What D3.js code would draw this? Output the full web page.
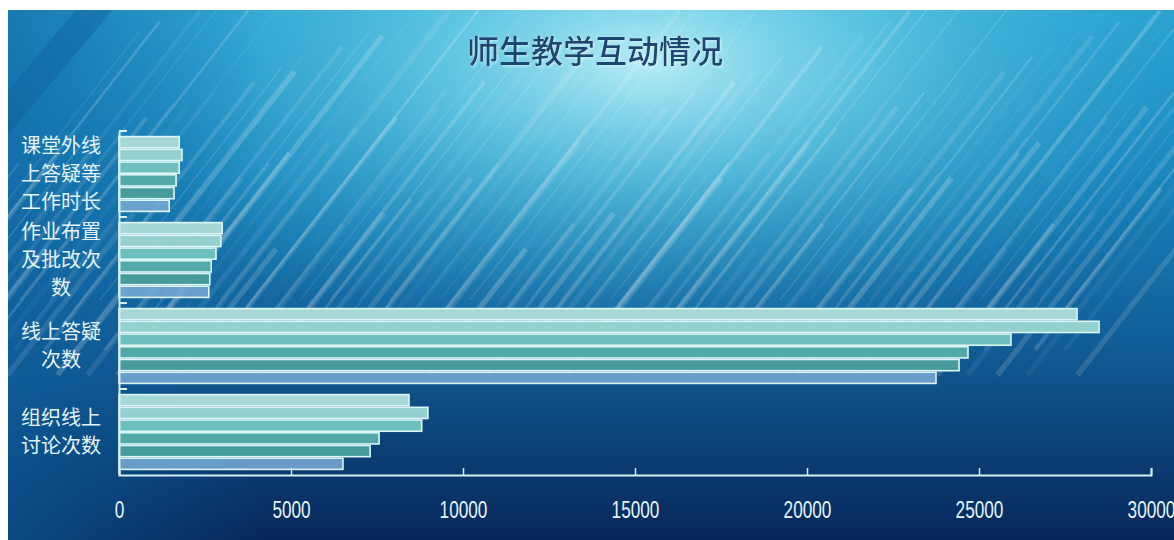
<!DOCTYPE html>
<html>
<head>
<meta charset="utf-8">
<script src="https://cdn.jsdelivr.net/npm/d3@7/dist/d3.min.js"></script>
<style>
  html, body { margin: 0; padding: 0; background: #ffffff; }
  svg { display: block; }
</style>
</head>
<body>
<script>
//chart data
var categories = ["课堂外线上答疑等工作时长", "作业布置及批改次数", "线上答疑次数", "组织线上讨论次数"];
var seriesNames = ["s1", "s2", "s3", "s4", "s5", "s6"];
//one array per series, values in category order
var s1 = [1750, 3000, 27850, 8430];
var s2 = [1830, 2960, 28490, 8980];
var s3 = [1750, 2820, 25930, 8800];
var s4 = [1660, 2680, 24680, 7560];
var s5 = [1600, 2640, 24420, 7300];
var s6 = [1460, 2610, 23750, 6510];
var seriesValues = [s1, s2, s3, s4, s5, s6];
var seriesColors = ["#a6d9d6", "#93d0ce", "#6ec0bf", "#53a9a7", "#479b9b", "rgba(118,168,212,0.88)"];
var xTicks = [0, 5000, 10000, 15000, 20000, 25000, 30000];
var title = "师生教学互动情况";

window.onload = drawChart();

function drawChart() {
    var width = 1174,
        height = 540;

    var svg = d3.select("body")
        .append("svg")
        .attr("width", width)
        .attr("height", height);

    var defs = svg.append("defs");

    //background gradients
    var base = defs.append("linearGradient")
        .attr("id", "bgBase")
        .attr("x1", 0).attr("y1", 0).attr("x2", 0).attr("y2", 1);
    base.append("stop").attr("offset", "0%").attr("stop-color", "#2aa3d2");
    base.append("stop").attr("offset", "30%").attr("stop-color", "#1a86bd");
    base.append("stop").attr("offset", "62%").attr("stop-color", "#115e98");
    base.append("stop").attr("offset", "100%").attr("stop-color", "#07275a");

    var glow = defs.append("radialGradient")
        .attr("id", "bgGlow")
        .attr("cx", 0.55).attr("cy", 0.1).attr("r", 0.5)
        .attr("gradientTransform", "translate(0.55 0.1) scale(1 1.1) translate(-0.55 -0.1)");
    glow.append("stop").attr("offset", "0%").attr("stop-color", "#c8f6fa").attr("stop-opacity", 0.9);
    glow.append("stop").attr("offset", "35%").attr("stop-color", "#7fdcec").attr("stop-opacity", 0.65);
    glow.append("stop").attr("offset", "100%").attr("stop-color", "#2aa6d4").attr("stop-opacity", 0);

    var leftShade = defs.append("linearGradient")
        .attr("id", "bgLeft")
        .attr("x1", 0).attr("y1", 0).attr("x2", 1).attr("y2", 0);
    leftShade.append("stop").attr("offset", "0%").attr("stop-color", "#0d5f9c").attr("stop-opacity", 0.6);
    leftShade.append("stop").attr("offset", "22%").attr("stop-color", "#0d5f9c").attr("stop-opacity", 0);

    var streakFade = defs.append("linearGradient")
        .attr("id", "streakFade")
        .attr("x1", 0).attr("y1", 0).attr("x2", 0).attr("y2", 1);
    streakFade.append("stop").attr("offset", "0%").attr("stop-color", "#ffffff").attr("stop-opacity", 1);
    streakFade.append("stop").attr("offset", "100%").attr("stop-color", "#ffffff").attr("stop-opacity", 0);

    var clip = defs.append("clipPath").attr("id", "bgClip");
    clip.append("rect").attr("x", 8).attr("y", 10).attr("width", width - 8).attr("height", height - 10);

    var titleShadow = defs.append("filter").attr("id", "titleGlow")
        .attr("x", "-10%").attr("y", "-30%").attr("width", "120%").attr("height", "160%");
    titleShadow.append("feDropShadow")
        .attr("dx", 1).attr("dy", 1).attr("stdDeviation", 1.5)
        .attr("flood-color", "#dff8ff").attr("flood-opacity", 0.8);

    var bg = svg.append("g").attr("clip-path", "url(#bgClip)");
    bg.append("rect").attr("x", 8).attr("y", 10).attr("width", width - 8).attr("height", height - 10)
        .attr("fill", "url(#bgBase)");
    bg.append("rect").attr("x", 8).attr("y", 10).attr("width", width - 8).attr("height", height - 10)
        .attr("fill", "url(#bgGlow)");
    bg.append("rect").attr("x", 8).attr("y", 10).attr("width", width - 8).attr("height", height - 10)
        .attr("fill", "url(#bgLeft)");

    //decorative diagonal streaks, running up to the right
    var streaks = bg.append("g");
    d3.range(0, 140).forEach(function(i) {
        var len = 160 + (i % 7) * 45;
        var x1 = -120 + i * 8.5 + (i % 5) * 4;
        var y1 = 300 + (i % 4) * 25;
        var ang = 52 * Math.PI / 180;
        var g = streaks.append("g")
            .attr("transform", "translate(" + x1 + "," + y1 + ") rotate(" + (-52) + ")");
        g.append("rect")
            .attr("x", 0)
            .attr("y", -(0.6 + (i % 4) * 0.7))
            .attr("width", len)
            .attr("height", 1.2 + (i % 4) * 1.4)
            .attr("fill", "#ffffff")
            .attr("opacity", 0.04 + ((i * 37) % 11) / 70);
    });
    //a darker sweep at the top left
    bg.append("g")
        .attr("transform", "translate(-40,170) rotate(-50)")
        .append("rect")
        .attr("x", 0).attr("y", -14).attr("width", 260).attr("height", 28)
        .attr("fill", "#0b5a94").attr("opacity", 0.35);

    //plot area
    var left = 119, right = 1151, top = 131, bottom = 475;

    var x = d3.scaleLinear()
        .domain([0, 30000])
        .range([left, right]);

    var y = d3.scaleBand()
        .domain(categories)
        .range([top, bottom])
        .paddingInner(0)
        .paddingOuter(0);

    var ySub = d3.scaleBand()
        .domain(seriesNames)
        .range([0, y.bandwidth()])
        .paddingInner(0)
        .paddingOuter(0.38);

    //title
    svg.append("text")
        .attr("x", 595)
        .attr("y", 63)
        .attr("text-anchor", "middle")
        .attr("font-family", "'Noto Sans CJK SC', sans-serif")
        .attr("font-size", 32)
        .attr("font-weight", 500)
        .attr("fill", "#1c4670")
        .attr("filter", "url(#titleGlow)")
        .text(title);

    //bars
    var groups = svg.selectAll(".group")
        .data(categories)
        .enter()
        .append("g")
        .attr("class", "group")
        .attr("transform", function(d) { return "translate(0," + y(d) + ")"; });

    groups.selectAll("rect")
        .data(function(d, ci) {
            return seriesNames.map(function(s, si) {
                return { series: s, index: si, value: seriesValues[si][ci] };
            });
        })
        .enter()
        .append("rect")
        .attr("x", x(0))
        .attr("y", function(d) { return ySub(d.series) + 0.75; })
        .attr("width", function(d) { return x(d.value) - x(0); })
        .attr("height", ySub.bandwidth() - 1.5)
        .attr("fill", function(d) { return seriesColors[d.index]; })
        .attr("stroke", "#dcf6f6")
        .attr("stroke-width", 1.6);

    //x axis
    var xAxis = svg.append("g")
        .attr("transform", "translate(0," + bottom + ")")
        .call(d3.axisBottom(x)
            .tickValues(xTicks)
            .tickSize(-7)
            .tickPadding(22)
            .tickFormat(d3.format("d")));
    xAxis.select(".domain").attr("stroke", "#d3f0f0").attr("stroke-width", 2);
    xAxis.selectAll(".tick line").attr("stroke", "#d3f0f0").attr("stroke-width", 1.5);
    xAxis.selectAll(".tick text")
        .attr("fill", "#e4f4f6")
        .attr("font-family", "'Liberation Sans', Arial, sans-serif")
        .attr("font-size", 20)
        .attr("transform", "scale(0.86,1.18)");

    //y axis: line plus boundary ticks
    var yAxis = svg.append("g")
        .attr("transform", "translate(" + left + ",0)")
        .call(d3.axisLeft(y).tickSize(0).tickFormat(""));
    yAxis.select(".domain").attr("stroke", "#d3f0f0").attr("stroke-width", 2);

    var boundaries = categories.map(function(d) { return y(d); });
    svg.selectAll(".ybound")
        .data(boundaries)
        .enter()
        .append("line")
        .attr("class", "ybound")
        .attr("x1", left)
        .attr("x2", left + 8)
        .attr("y1", function(d) { return d; })
        .attr("y2", function(d) { return d; })
        .attr("stroke", "#d3f0f0")
        .attr("stroke-width", 2);

    //category labels, wrapped at 4 characters per line
    var lineHeight = 28;
    var labels = svg.selectAll(".ylabel")
        .data(categories)
        .enter()
        .append("text")
        .attr("class", "ylabel")
        .attr("text-anchor", "middle")
        .attr("font-family", "'Noto Sans CJK SC', sans-serif")
        .attr("font-size", 20)
        .attr("fill", "#e4f4f6");

    labels.each(function(d) {
        var lines = [];
        for (var i = 0; i < d.length; i += 4) lines.push(d.slice(i, i + 4));
        var cy = y(d) + y.bandwidth() / 2;
        var startY = cy - (lines.length - 1) * lineHeight / 2;
        var t = d3.select(this);
        lines.forEach(function(l, i) {
            t.append("tspan")
                .attr("x", 61)
                .attr("y", startY + i * lineHeight)
                .attr("dy", "0.35em")
                .text(l);
        });
    });
}
</script>
</body>
</html>
